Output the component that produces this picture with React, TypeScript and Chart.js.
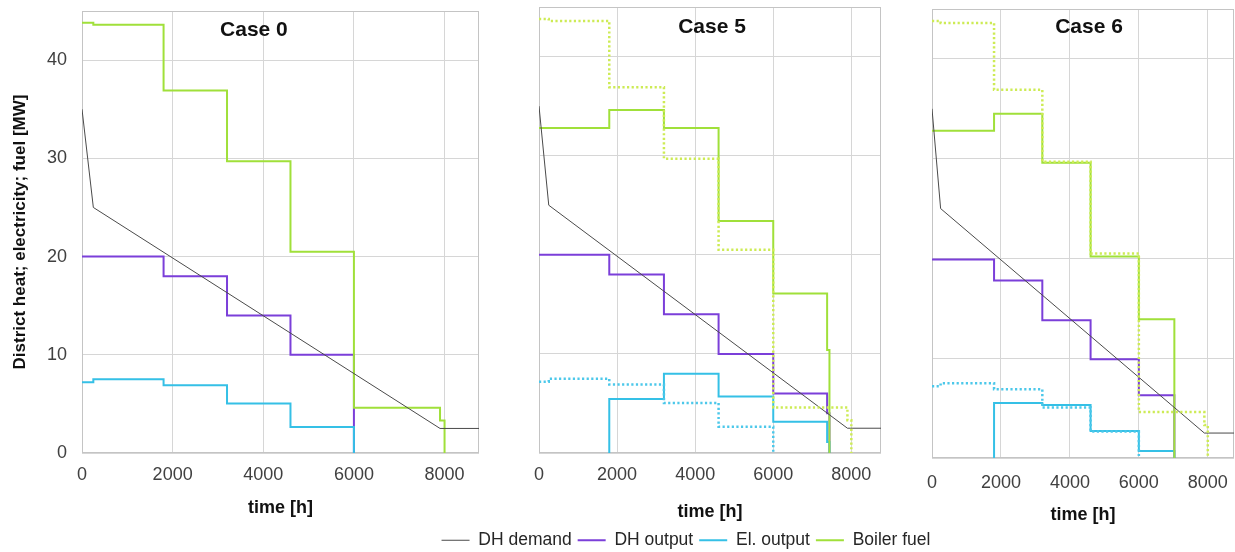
import React, { useEffect, useRef } from 'react';
import { Chart, registerables } from 'chart.js';

Chart.register(...registerables);

// ---------------- data ----------------
const demandHours = [0, 250, 7900, 8760];
const demandMW = [35, 25, 2.5, 2.5];

// Case 0
const case0DhHours = [0, 1800, 3200, 4600, 6000];
const case0DhMW = [20, 18, 14, 10, 0];
const case0ElHours = [0, 250, 1800, 3200, 4600, 6000];
const case0ElMW = [7.2, 7.5, 6.9, 5.05, 2.65, 0];
const case0FuelHours = [0, 250, 1800, 3200, 4600, 6000, 7900, 8000];
const case0FuelMW = [43.8, 43.6, 36.9, 29.7, 20.5, 4.6, 3.3, 0];

// Case 5
const case5DhHours = [0, 1800, 3200, 4600, 6000, 7380, 7440];
const case5DhMW = [20, 18, 14, 10, 6, 4, 0];
const case5ElHours = [1800, 1800, 3200, 4600, 6000, 7380, 7440];
const case5ElMW = [0, 5.45, 8.0, 5.7, 3.15, 1.1, 0];
const case5FuelHours = [0, 1800, 3200, 4600, 6000, 7380, 7440];
const case5FuelMW = [32.8, 34.6, 32.8, 23.4, 16.1, 10.4, 0];

// Case 6
const case6DhHours = [0, 1800, 3200, 4600, 6000, 7030];
const case6DhMW = [19.9, 17.8, 13.8, 9.9, 6.3, 0];
const case6ElHours = [1800, 1800, 3200, 4600, 6000, 7030];
const case6ElMW = [0, 5.5, 5.3, 2.7, 0.7, 0];
const case6FuelHours = [0, 1800, 3200, 4600, 6000, 7030];
const case6FuelMW = [32.8, 34.5, 29.6, 20.2, 13.9, 0];

const xTickValues = [0, 2000, 4000, 6000, 8000];
const yTickValues = [0, 10, 20, 30, 40];
const xMax = 8760;
const yMax = 45;

// ---------------- styles ----------------
const FONT = "'Liberation Sans', Arial, Helvetica, sans-serif";
const C_DEMAND = '#4a4a4a';
const C_DH = '#7b3fd9';
const C_EL = '#35c0e6';
const C_FUEL = '#a0e03a';
const C_EL_REF = '#4cc8ea';
const C_FUEL_REF = '#cdeb55';
const GRID = '#d6d6d6';
const BOX = '#c4c4c4';
const TICK = '#404040';

const pts = (xs: number[], ys: number[]) => xs.map((x, i) => ({ x, y: ys[i] }));

const boxPlugin = {
  id: 'plotBox',
  beforeDatasetsDraw(chart: any) {
    const { ctx, chartArea: a } = chart;
    ctx.save();
    ctx.strokeStyle = BOX;
    ctx.lineWidth = 1;
    ctx.strokeRect(Math.round(a.left) + 0.5, Math.round(a.top) + 0.5, Math.round(a.right - a.left) - 1, Math.round(a.bottom - a.top) - 1);
    ctx.restore();
  },
};

const caseTitlePlugin = {
  id: 'caseTitle',
  afterDatasetsDraw(chart: any, _args: any, opts: any) {
    if (!opts || !opts.text) return;
    const { ctx, chartArea: a } = chart;
    ctx.save();
    ctx.font = `bold 21px ${FONT}`;
    ctx.fillStyle = '#111111';
    ctx.textAlign = 'center';
    ctx.textBaseline = 'middle';
    ctx.fillText(opts.text, a.left + opts.frac * (a.right - a.left), a.top + opts.dy);
    ctx.restore();
  },
};

type PanelSpec = {
  title: string;
  dh: [number[], number[]];
  el: [number[], number[]];
  fuel: [number[], number[]];
  refs: boolean;
  showY: boolean;
  showLegend: boolean;
  padTop: number;
  yWidth: number;
  rightWidth: number;
  bottom: number;
  tickPad: number;
  titlePadBottom: number;
  titleFrac: number;
  titleDy: number;
};

function makeConfig(p: PanelSpec): any {
  const datasets: any[] = [
    { label: 'DH demand', data: pts(demandHours, demandMW), borderColor: C_DEMAND, backgroundColor: C_DEMAND, borderWidth: 1, order: 0 },
    { label: 'DH output', data: pts(p.dh[0], p.dh[1]), borderColor: C_DH, backgroundColor: C_DH, borderWidth: 2, stepped: 'before', order: 3 },
    { label: 'El. output', data: pts(p.el[0], p.el[1]), borderColor: C_EL, backgroundColor: C_EL, borderWidth: 2, stepped: 'before', order: 2 },
    { label: 'Boiler fuel', data: pts(p.fuel[0], p.fuel[1]), borderColor: C_FUEL, backgroundColor: C_FUEL, borderWidth: 2, stepped: 'before', order: 1 },
  ];
  if (p.refs) {
    datasets.push(
      { label: 'El. output (Case 0)', data: pts(case0ElHours, case0ElMW), borderColor: C_EL_REF, backgroundColor: C_EL_REF, borderWidth: 2.5, borderDash: [2.2, 2.4], stepped: 'before', order: -1 },
      { label: 'Boiler fuel (Case 0)', data: pts(case0FuelHours, case0FuelMW), borderColor: C_FUEL_REF, backgroundColor: C_FUEL_REF, borderWidth: 2.5, borderDash: [2.2, 2.4], stepped: 'before', order: -1 },
    );
  }
  return {
    type: 'line',
    data: { datasets },
    plugins: [boxPlugin, caseTitlePlugin],
    options: {
      responsive: false,
      animation: false,
      events: [],
      devicePixelRatio: 1,
      layout: { padding: { top: p.padTop, left: 0, right: 0, bottom: 0 } },
      elements: { point: { radius: 0 }, line: { tension: 0, fill: false } },
      scales: {
        x: {
          type: 'linear',
          min: 0,
          max: xMax,
          afterBuildTicks: (s: any) => {
            s.ticks = xTickValues.map((v) => ({ value: v }));
          },
          ticks: {
            autoSkip: false,
            maxRotation: 0,
            padding: p.tickPad,
            color: TICK,
            font: { family: FONT, size: 18 },
            callback: (v: number) => String(v),
          },
          grid: { color: GRID, drawTicks: false },
          border: { display: false },
          title: {
            display: true,
            text: 'time [h]',
            color: '#111111',
            font: { family: FONT, size: 18, weight: 'bold' },
            padding: { top: 0, bottom: p.titlePadBottom },
          },
          afterFit: (s: any) => {
            const leg = s.chart.legend && s.chart.legend.options.display ? s.chart.legend.height : 0;
            s.height = s.chart.height - p.bottom - leg;
            s.paddingLeft = 0;
            s.paddingRight = 0;
          },
        },
        y: {
          type: 'linear',
          position: 'left',
          min: 0,
          max: yMax,
          afterBuildTicks: (s: any) => {
            s.ticks = yTickValues.map((v) => ({ value: v }));
          },
          ticks: {
            display: p.showY,
            padding: 15,
            color: TICK,
            font: { family: FONT, size: 18 },
          },
          grid: { color: GRID, drawTicks: false },
          border: { display: false },
          title: {
            display: p.showY,
            text: 'District heat; electricity; fuel [MW]',
            color: '#111111',
            font: { family: FONT, size: 17, weight: 'bold' },
            padding: { top: 10, bottom: 0 },
          },
          afterFit: (s: any) => {
            s.width = p.yWidth;
            s.paddingTop = 0;
            s.paddingBottom = 0;
          },
        },
        yR: {
          type: 'linear',
          position: 'right',
          display: true,
          ticks: { display: false },
          grid: { display: false, drawTicks: false },
          border: { display: false },
          afterFit: (s: any) => {
            s.width = p.rightWidth;
            s.paddingTop = 0;
            s.paddingBottom = 0;
          },
        },
      },
      plugins: {
        tooltip: { enabled: false },
        caseTitle: { text: p.title, frac: p.titleFrac, dy: p.titleDy },
        legend: {
          display: p.showLegend,
          position: 'bottom',
          labels: {
            usePointStyle: true,
            pointStyle: 'line',
            pointStyleWidth: 28,
            boxWidth: 28,
            padding: 6,
            color: '#262626',
            font: { family: FONT, size: 17.5 },
            filter: (item: any) => item.datasetIndex < 4,
            sort: (a: any, b: any) => a.datasetIndex - b.datasetIndex,
          },
        },
      },
    },
  };
}

function ChartPanel({ spec, left, width, height }: { spec: PanelSpec; left: number; width: number; height: number }) {
  const ref = useRef<HTMLCanvasElement | null>(null);
  useEffect(() => {
    if (!ref.current) return;
    const chart = new Chart(ref.current, makeConfig(spec));
    return () => chart.destroy();
  }, []);
  return (
    <canvas
      ref={ref}
      width={width}
      height={height}
      style={{ position: 'absolute', left, top: 0, width, height, display: 'block' }}
    />
  );
}

const panel0: PanelSpec = {
  title: 'Case 0',
  dh: [case0DhHours, case0DhMW],
  el: [case0ElHours, case0ElMW],
  fuel: [case0FuelHours, case0FuelMW],
  refs: false,
  showY: true,
  showLegend: false,
  padTop: 11,
  yWidth: 82,
  rightWidth: 11,
  bottom: 453,
  tickPad: 11,
  titlePadBottom: 6,
  titleFrac: 0.433,
  titleDy: 19,
};

const panel5: PanelSpec = {
  title: 'Case 5',
  dh: [case5DhHours, case5DhMW],
  el: [case5ElHours, case5ElMW],
  fuel: [case5FuelHours, case5FuelMW],
  refs: true,
  showY: false,
  showLegend: true,
  padTop: 7,
  yWidth: 118,
  rightWidth: 70,
  bottom: 453,
  tickPad: 11,
  titlePadBottom: 2.7,
  titleFrac: 0.506,
  titleDy: 20,
};

const panel6: PanelSpec = {
  title: 'Case 6',
  dh: [case6DhHours, case6DhMW],
  el: [case6ElHours, case6ElMW],
  fuel: [case6FuelHours, case6FuelMW],
  refs: true,
  showY: false,
  showLegend: false,
  padTop: 9,
  yWidth: 42,
  rightWidth: 1,
  bottom: 458,
  tickPad: 14,
  titlePadBottom: 4.2,
  titleFrac: 0.52,
  titleDy: 18,
};

export default function App() {
  return (
    <div
      style={{
        position: 'absolute',
        left: 0,
        top: 0,
        width: 1235,
        height: 552,
        overflow: 'hidden',
        background: '#ffffff',
      }}
    >
      <ChartPanel spec={panel0} left={0} width={490} height={525} />
      <ChartPanel spec={panel5} left={421} width={530} height={559} />
      <ChartPanel spec={panel6} left={890} width={345} height={530} />
    </div>
  );
}
